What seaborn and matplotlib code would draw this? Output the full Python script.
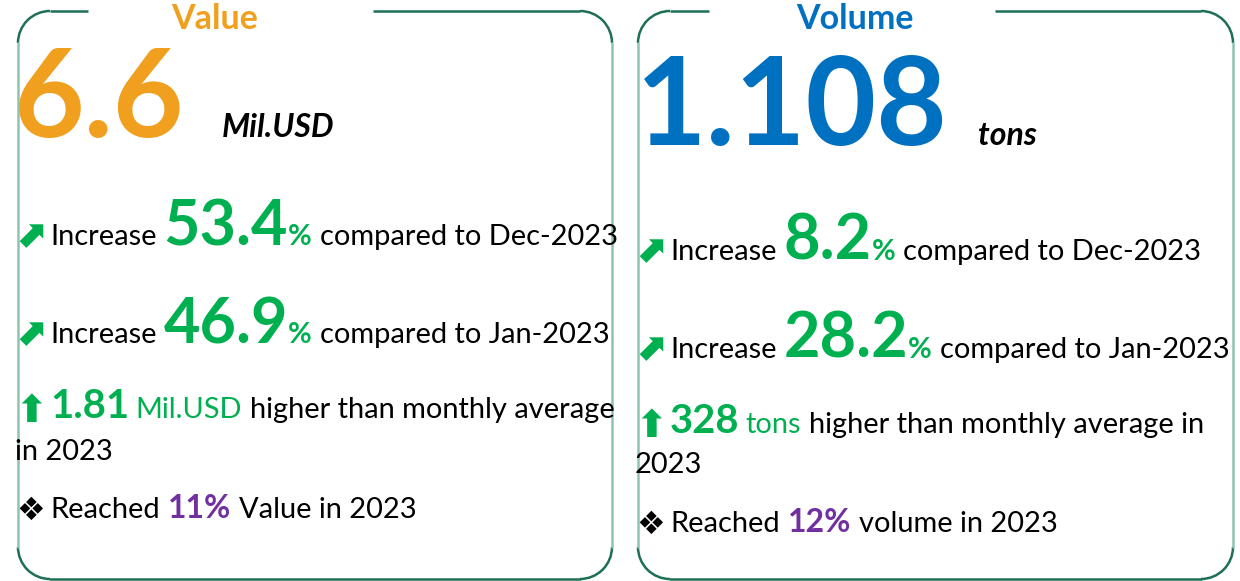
import matplotlib
matplotlib.use("Agg")
import matplotlib.pyplot as plt
import seaborn as sns
from matplotlib.patches import Arc

# ---------------- data ----------------
titles = ["Value", "Volume"]
title_colors = ["#F0A01E", "#0070C0"]
big_values = ["6.6", "1.108"]
units = ["Mil.USD", "tons"]
change_dec = ["53.4", "8.2"]
change_jan = ["46.9", "28.2"]
compare_labels = ["compared to Dec-2023", "compared to Jan-2023"]
avg_diff = ["1.81", "328"]
avg_units = ["Mil.USD", "tons"]
avg_tail_line1 = ["higher than monthly average", "higher than monthly average in"]
avg_tail_line2 = ["in 2023", "2023"]
shares = ["11%", "12%"]
share_tail = ["Value in 2023", "volume in 2023"]

# ---------------- style ----------------
sns.set_theme(style="white")
plt.rcParams['font.family'] = ['Lato', 'DejaVu Sans']

GREEN = "#00B050"
PURPLE = "#7030A0"
DARK = "#1E7055"
LIGHT = "#8EC4AF"

W, H = 1240, 581
fig = plt.figure(figsize=(12.4, 5.81), dpi=100)
ax = fig.add_axes([0, 0, 1, 1])
ax.set_xlim(0, W)
ax.set_ylim(H, 0)
ax.axis('off')
renderer = fig.canvas.get_renderer()

def pt(px):
    return px * 0.72

REG = pt(29)
BIG = pt(63)
HUGE = pt(122)
TITLE = pt(34)
UNIT = pt(32)
NUM = pt(40)
SHARE = pt(32)

def put(x, y, txt, size, color="black", weight="normal", style="normal", gap=0, family=None):
    kw = {}
    if family:
        kw['family'] = family
    t = ax.text(x, y, txt, fontsize=size, color=color, fontweight=weight,
                fontstyle=style, va='baseline', ha='left', **kw)
    bb = t.get_window_extent(renderer)
    return x + bb.width + gap

def line(x, y, pieces):
    for p in pieces:
        x = put(x, y, *p)
    return x

# boxes: left, right, top, bottom, gap start, gap end, radius
boxes = [(18, 612, 11, 579, 88, 373, 32), (638, 1233, 11, 579, 709, 995, 32)]
for (l, r, t, b, g0, g1, rad) in boxes:
    ax.plot([l + rad, g0], [t, t], color=DARK, lw=1.8, solid_capstyle='butt')
    ax.plot([g1, r - rad], [t, t], color=DARK, lw=1.8, solid_capstyle='butt')
    ax.plot([l + rad, r - rad], [b, b], color=DARK, lw=1.8)
    ax.plot([l, l], [t + rad, b - rad], color=LIGHT, lw=1.8)
    ax.plot([r, r], [t + rad, b - rad], color=LIGHT, lw=1.8)
    for cx, cy, th1, th2 in [(l + rad, t + rad, 180, 270), (r - rad, t + rad, 270, 360),
                             (l + rad, b - rad, 90, 180), (r - rad, b - rad, 0, 90)]:
        ax.add_patch(Arc((cx, cy), 2 * rad, 2 * rad, theta1=th1, theta2=th2,
                         color=DARK, lw=1.8))

# layout per panel
title_cx = [215, 855]
big_x = [14, 636]
big_base = [137, 145]
unit_x = [222, 978]
unit_base = [137, 145]
row_x = [18, 638]
row_base = [[245, 343, 418, 460, 518], [260, 358, 433, 473, 532]]
DJ = ['DejaVu Sans']

for i in range(2):
    ax.text(title_cx[i], 29, titles[i], fontsize=TITLE, color=title_colors[i],
            fontweight='bold', ha='center', va='baseline')
    put(big_x[i], big_base[i], big_values[i], HUGE, title_colors[i], 'bold')
    put(unit_x[i], unit_base[i], units[i], UNIT, 'black', 'bold', 'italic')

    rb = row_base[i]
    x0 = row_x[i]
    tx = x0 + 32
    for k, val in enumerate([change_dec[i], change_jan[i]]):
        put(x0 - 4, rb[k] + 2, "\u2B08", pt(38), GREEN, 'bold', family=DJ)
        line(tx, rb[k], [
            ("Increase", REG, 'black', 'normal', 'normal', 7),
            (val, BIG, GREEN, 'bold', 'normal', 0),
            ("%", REG, GREEN, 'bold', 'normal', 8),
            (compare_labels[k], REG, 'black'),
        ])
    put(x0 - 3, rb[2] + 4, "\u2B06", pt(38), GREEN, 'bold', family=DJ)
    line(tx, rb[2], [
        (avg_diff[i], NUM, GREEN, 'bold', 'normal', 6),
        (avg_units[i], REG, GREEN, 'normal', 'normal', 8),
        (avg_tail_line1[i], REG, 'black'),
    ])
    put(x0 - 3, rb[3], avg_tail_line2[i], REG)
    put(x0 - 2, rb[4] + 2, "\u2756", pt(32), 'black', family=DJ)
    line(tx, rb[4], [
        ("Reached", REG, 'black', 'normal', 'normal', 8),
        (shares[i], SHARE, PURPLE, 'bold', 'normal', 8),
        (share_tail[i], REG, 'black'),
    ])

fig.savefig("out.png", dpi=100)
